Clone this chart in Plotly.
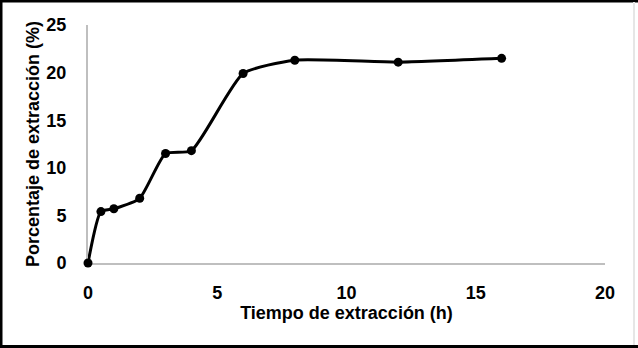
import plotly.graph_objects as go

# Data
tiempo_h = [0, 0.5, 1, 2, 3, 4, 6, 8, 12, 16]
porcentaje = [0, 5.4, 5.7, 6.8, 11.5, 11.8, 19.9, 21.3, 21.1, 21.5]
x_ticks = [0, 5, 10, 15, 20]
y_ticks = [0, 5, 10, 15, 20, 25]
x_title = "Tiempo de extracción (h)"
y_title = "Porcentaje de extracción (%)"

W, H = 638, 348
L, R, T, B = 88, 33, 25, 85
pw, ph = W - L - R, H - T - B

def px(xp):
    return (xp - L) / pw

def py(yp):
    return (H - B - yp) / ph

FONT = "Liberation Sans, Arial, sans-serif"

fig = go.Figure()
fig.add_trace(go.Scatter(
    x=tiempo_h, y=porcentaje, mode="lines+markers",
    line=dict(color="black", width=3, shape="spline", smoothing=0.55),
    marker=dict(color="black", size=9),
    showlegend=False, cliponaxis=False,
))

fig.update_layout(
    width=W, height=H,
    margin=dict(l=L, r=R, t=T, b=B, autoexpand=False),
    paper_bgcolor="white", plot_bgcolor="white",
    font=dict(family=FONT, color="black"),
)
fig.update_xaxes(
    range=[0, 20], tickvals=x_ticks, showgrid=False, zeroline=False,
    showline=True, linecolor="#bfbfbf", linewidth=2, automargin=False,
    layer="below traces",
    tickfont=dict(size=18, weight="bold", family=FONT, color="black"),
    ticklabelstandoff=12,
    title=dict(text=x_title, font=dict(size=18, weight="bold", family=FONT, color="black"), standoff=4),
)
fig.update_yaxes(
    range=[0, 25], tickvals=y_ticks, showgrid=False, zeroline=False,
    showline=True, linecolor="#bfbfbf", linewidth=2, automargin=False,
    layer="below traces",
    tickfont=dict(size=18, weight="bold", family=FONT, color="black"),
    ticklabelstandoff=16,
    title=dict(text=y_title, font=dict(size=18, weight="bold", family=FONT, color="black"), standoff=2),
)

# outer frame
fig.add_shape(type="line", xref="paper", yref="paper", x0=px(1), x1=px(1), y0=py(0), y1=py(348), line=dict(color="black", width=3))
fig.add_shape(type="line", xref="paper", yref="paper", x0=px(0), x1=px(638), y0=py(1), y1=py(1), line=dict(color="black", width=3))
fig.add_shape(type="line", xref="paper", yref="paper", x0=px(0), x1=px(638), y0=py(346.5), y1=py(346.5), line=dict(color="black", width=3))
fig.add_shape(type="line", xref="paper", yref="paper", x0=px(634), x1=px(634), y0=py(2), y1=py(345), line=dict(color="#e6e6e6", width=2))

fig.write_html(
    "out.html",
    config={"displayModeBar": False},
    post_script="document.body.style.margin='0';document.body.style.overflow='hidden';",
)
